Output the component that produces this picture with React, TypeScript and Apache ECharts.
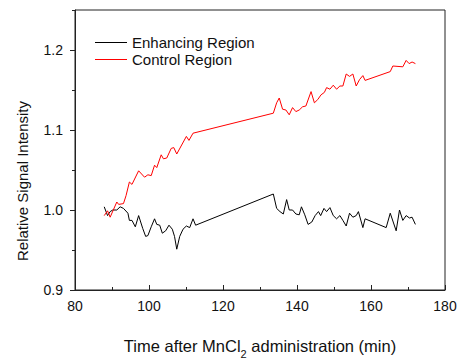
import React, { useEffect, useRef } from "react";
import * as echarts from "echarts";

const enhancingTimes = [87.9, 88.8, 89.5, 90.2, 91.3, 92.2, 93.1, 94.3, 94.7, 95.4, 96.3, 97.2, 98.3, 99.1, 99.7, 100.6, 101.5, 102.1, 102.9, 103.6, 104.5, 105.4, 106.3, 106.9, 107.5, 108.3, 109.2, 110.1, 111.0, 111.9, 112.6, 133.6, 134.5, 135.4, 136.3, 137.2, 137.9, 138.8, 139.7, 140.6, 141.2, 142.1, 143.0, 144.0, 144.9, 145.8, 146.4, 147.3, 148.0, 148.9, 149.8, 150.7, 151.6, 152.4, 153.3, 154.2, 155.1, 156.0, 156.6, 157.8, 158.4, 164.1, 165.2, 166.8, 167.7, 168.6, 169.5, 170.4, 171.1, 172.0];
const enhancingValues = [1.004, 0.993, 0.998, 1.0, 1.0, 1.004, 1.002, 0.996, 0.987, 0.987, 0.979, 0.993, 0.977, 0.967, 0.968, 0.979, 0.989, 0.982, 0.981, 0.971, 0.974, 0.981, 0.976, 0.967, 0.951, 0.967, 0.976, 0.98, 0.978, 0.989, 0.981, 1.02, 1.002, 0.998, 0.995, 1.013, 1.0, 1.0, 0.995, 0.994, 1.004, 0.994, 0.982, 0.985, 0.993, 0.998, 0.993, 1.002, 0.998, 1.003, 0.993, 0.989, 0.993, 0.987, 0.98, 0.996, 0.991, 0.993, 0.998, 0.978, 0.989, 0.978, 0.996, 0.974, 1.0, 0.987, 0.993, 0.99, 0.991, 0.982];

const controlTimes = [87.9, 88.8, 89.5, 91.3, 91.8, 93.1, 93.8, 94.7, 95.4, 97.2, 98.8, 99.7, 100.6, 101.5, 102.1, 103.3, 103.9, 104.8, 106.0, 106.7, 107.5, 110.1, 110.8, 111.9, 133.6, 134.5, 135.2, 136.1, 137.0, 137.9, 138.8, 139.7, 140.6, 141.5, 142.4, 143.8, 144.7, 145.6, 146.5, 147.4, 148.0, 148.9, 149.8, 150.7, 151.6, 152.4, 153.3, 154.2, 155.1, 156.0, 156.9, 157.8, 158.4, 165.2, 165.9, 168.6, 169.5, 170.3, 171.1, 172.0];
const controlValues = [0.993, 0.999, 0.991, 1.01, 1.007, 1.008, 1.018, 1.035, 1.032, 1.049, 1.041, 1.044, 1.043, 1.056, 1.053, 1.069, 1.064, 1.065, 1.077, 1.078, 1.07, 1.092, 1.087, 1.096, 1.121, 1.134, 1.14, 1.126, 1.125, 1.119, 1.128, 1.123, 1.125, 1.129, 1.13, 1.148, 1.134, 1.138, 1.144, 1.147, 1.153, 1.151, 1.156, 1.151, 1.155, 1.155, 1.17, 1.167, 1.17, 1.155, 1.163, 1.168, 1.162, 1.173, 1.18, 1.179, 1.187, 1.183, 1.185, 1.183];

const yLabels = [0.9, 1.0, 1.1, 1.2];
const yMinor = [0.95, 1.05, 1.15, 1.25];

const FONT = "'Liberation Sans', Arial, sans-serif";

export default function App() {
  const ref = useRef<HTMLDivElement>(null);
  useEffect(() => {
    document.body.style.margin = "0";
    const chart = echarts.init(ref.current!, null, { renderer: "svg" });
    const pair = (t: number[], v: number[]) => t.map((x, i) => [x, v[i]]);
    chart.setOption({
      animation: false,
      backgroundColor: "#fff",
      textStyle: { fontFamily: FONT },
      grid: { left: 75, top: 10, width: 370, height: 298, show: true, borderColor: "#222", borderWidth: 1, backgroundColor: "transparent" },
      legend: {
        orient: "vertical",
        left: 95,
        top: 34,
        padding: 0,
        icon: "rect",
        itemWidth: 32,
        itemHeight: 1,
        itemGap: 0,
        textStyle: { fontSize: 15, lineHeight: 17, color: "#111", fontFamily: FONT },
        data: ["Enhancing Region", "Control Region"],
      },
      graphic: [
        {
          type: "text",
          x: 22,
          y: 181,
          rotation: Math.PI / 2,
          style: {
            text: "Relative Signal Intensity",
            font: "15px 'Liberation Sans', Arial, sans-serif",
            fill: "#111",
            textAlign: "center",
            textVerticalAlign: "middle",
          },
        },
      ],
      xAxis: {
        type: "value",
        min: 80,
        max: 180,
        interval: 20,
        axisLine: { show: true, lineStyle: { color: "#222" } },
        axisTick: { show: true, inside: true, length: 5, lineStyle: { color: "#222" } },
        minorTick: { show: true, splitNumber: 2, length: 3, lineStyle: { color: "#222" } },
        splitLine: { show: false },
        axisLabel: { fontSize: 14, color: "#111", margin: 9, fontFamily: FONT },
        name: "Time after MnCl{sub|2} administration (min)",
        nameLocation: "middle",
        nameGap: 47,
        nameTextStyle: {
          fontSize: 16.5,
          color: "#111",
          fontFamily: FONT,
          rich: { sub: { fontSize: 11, verticalAlign: "bottom", padding: [0, 0, -5, 0], fontFamily: FONT, color: "#111" } },
        },
      },
      yAxis: [
        {
          type: "value",
          min: 0.9,
          max: 1.25,
          position: "left",
          axisLine: { show: true, lineStyle: { color: "#222" } },
          axisTick: { show: true, inside: false, length: 5, customValues: yLabels, lineStyle: { color: "#222" } },
          axisLabel: { customValues: yLabels, fontSize: 14, color: "#111", margin: 12, fontFamily: FONT, formatter: (v: number) => v.toFixed(1) },
          splitLine: { show: false },
        },
        {
          type: "value",
          min: 0.9,
          max: 1.25,
          position: "left",
          axisLine: { show: false },
          axisTick: { show: true, inside: false, length: 3, customValues: yMinor, lineStyle: { color: "#222" } },
          axisLabel: { show: false },
          splitLine: { show: false },
        },
      ],
      series: [
        {
          name: "Enhancing Region",
          type: "line",
          data: pair(enhancingTimes, enhancingValues),
          showSymbol: false,
          symbol: "none",
          lineStyle: { color: "#000", width: 1 },
          itemStyle: { color: "#000" },
        },
        {
          name: "Control Region",
          type: "line",
          data: pair(controlTimes, controlValues),
          showSymbol: false,
          symbol: "none",
          lineStyle: { color: "#ff0000", width: 1 },
          itemStyle: { color: "#ff0000" },
        },
      ],
    });
    return () => chart.dispose();
  }, []);
  return <div ref={ref} style={{ width: 466, height: 364 }} />;
}
